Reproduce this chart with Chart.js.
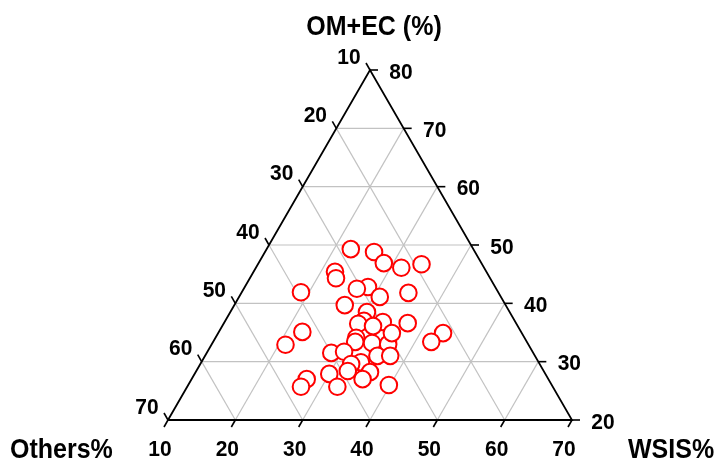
<!DOCTYPE html>
<html><head><meta charset="utf-8">
<script src="https://cdn.jsdelivr.net/npm/chart.js@4"></script>
<style>html,body{margin:0;padding:0;background:#fff}canvas{display:block}</style>
</head><body>
<canvas id="c" width="717" height="461"></canvas>
<script>
// Ternary sample values (percent)
const wsis   = [22.5,26.2,28.6,31.6,34.3,22.1,22.8,18.8,28.3,26.8,30.9,34.8,26.4,30.3,30.6,30.0,33.5,32.4,37.3,22.4,21.0,43.4,42.4,30.9,33.7,36.2,35.8,31.1,28.5,30.3,35.6,37.5,33.7,32.4,32.5,35.9,30.0,27.1,26.9,32.3,35.4,39.8];
const omec   = [49.3,48.8,46.9,46.1,46.7,45.4,44.3,41.9,42.8,42.5,41.1,41.8,39.7,38.5,37.0,36.5,36.8,36.1,36.6,35.1,32.9,34.9,33.4,34.1,33.2,33.0,34.9,33.4,31.5,31.7,31.0,31.0,29.9,29.6,28.4,28.2,27.9,27.0,25.7,25.7,27.0,26.0];
const others = [28.2,25.0,24.5,22.3,19.0,32.5,32.9,39.3,28.9,30.7,28.0,23.4,33.9,31.2,32.4,33.5,29.7,31.5,26.1,42.5,46.1,21.7,24.2,35.0,33.1,30.8,29.3,35.5,40.0,38.0,33.4,31.5,36.4,38.0,39.1,35.9,42.1,45.9,47.4,42.0,37.6,34.2];

const wsisTicks   = [10,20,30,40,50,60,70];
const omecTicks   = [20,30,40,50,60,70,80];
const othersTicks = [10,20,30,40,50,60,70];
const titleTop = 'OM+EC (%)';
const titleLeft = 'Others%';
const titleRight = 'WSIS%';

const WMIN = 10, OMIN = 20, TMIN = 10;
const S3 = Math.sqrt(3) / 2;
function tern(w, o, t) {
  if (t === undefined) t = 100 - w - o;
  const a = w - WMIN, b = o - OMIN, c = t - TMIN;
  const s = a + b + c;
  const A = a / s, B = b / s;
  return { x: A + B / 2, y: B * S3 };
}

const pts = wsis.map((w, i) => tern(w, omec[i], others[i]));

const gridColor = '#c2c2c2';
const datasets = [{
  type: 'scatter',
  data: pts,
  order: 0,
  pointRadius: 8.3,
  pointHoverRadius: 8.3,
  borderColor: '#ff0000',
  backgroundColor: '#ffffff',
  borderWidth: 2,
  clip: false
}];
function lineDs(a, b, color, width) {
  return { type: 'line', data: [a, b], order: 2, borderColor: color, borderWidth: width,
    pointRadius: 0, fill: false, clip: false, tension: 0 };
}
wsisTicks.slice(1, -1).forEach(k => datasets.push(lineDs(tern(k, 20), tern(k, 90 - k), gridColor, 1.2)));
omecTicks.slice(1, -1).forEach(k => datasets.push(lineDs(tern(10, k), tern(90 - k, k), gridColor, 1.2)));
othersTicks.slice(1, -1).forEach(k => datasets.push(lineDs(tern(80 - k, 20), tern(10, 90 - k), gridColor, 1.2)));
const edge = { type: 'line', order: 1, data: [tern(10, 20), tern(70, 20), tern(10, 80), tern(10, 20)],
  borderColor: '#000', borderWidth: 1.8, pointRadius: 0, fill: false, clip: false, tension: 0 };
datasets.push(edge);

function stretchText(ctx, txt, x, y, sy) {
  ctx.save();
  ctx.translate(x, y);
  ctx.scale(1, sy);
  ctx.fillText(txt, 0, 0);
  ctx.restore();
}

const decor = {
  id: 'decor',
  afterDraw(chart) {
    const ctx = chart.ctx, xs = chart.scales.x, ys = chart.scales.y;
    const P = p => ({ x: xs.getPixelForValue(p.x), y: ys.getPixelForValue(p.y) });
    ctx.save();
    ctx.strokeStyle = '#000';
    ctx.lineWidth = 1.6;
    ctx.fillStyle = '#000';
    ctx.font = 'bold 21px "Liberation Sans", Arial, sans-serif';
    ctx.textAlign = 'center';
    ctx.textBaseline = 'middle';
    // bottom axis (WSIS)
    wsisTicks.forEach(k => {
      const p = P(tern(k, 20));
      ctx.beginPath(); ctx.moveTo(p.x, p.y); ctx.lineTo(p.x - 4, p.y + 7); ctx.stroke();
      stretchText(ctx, String(k), p.x - 8, 450, 1.08);
    });
    // right axis (OM+EC)
    omecTicks.forEach(k => {
      const p = P(tern(90 - k, k));
      ctx.beginPath(); ctx.moveTo(p.x, p.y); ctx.lineTo(p.x + 8, p.y); ctx.stroke();
      stretchText(ctx, String(k), p.x + 31, p.y + 2.5, 1.08);
    });
    // left axis (Others)
    othersTicks.forEach(k => {
      const p = P(tern(10, 90 - k));
      ctx.beginPath(); ctx.moveTo(p.x, p.y); ctx.lineTo(p.x - 4, p.y - 7); ctx.stroke();
      stretchText(ctx, String(k), p.x - 21, p.y - 12.5, 1.08);
    });
    ctx.font = 'bold 25px "Liberation Sans", Arial, sans-serif';
    stretchText(ctx, titleTop, 374, 27, 1.12);
    ctx.textAlign = 'left';
    stretchText(ctx, titleLeft, 10, 450, 1.12);
    stretchText(ctx, titleRight, 628, 450, 1.12);
    ctx.restore();
  }
};

new Chart(document.getElementById('c'), {
  data: { datasets },
  options: {
    responsive: false,
    animation: false,
    layout: { padding: { left: 168, right: 145, top: 70, bottom: 41 } },
    scales: {
      x: { type: 'linear', min: 0, max: 1, display: false },
      y: { type: 'linear', min: 0, max: S3, display: false }
    },
    plugins: { legend: { display: false }, tooltip: { enabled: false } }
  },
  plugins: [decor]
});
</script>
</body></html>
